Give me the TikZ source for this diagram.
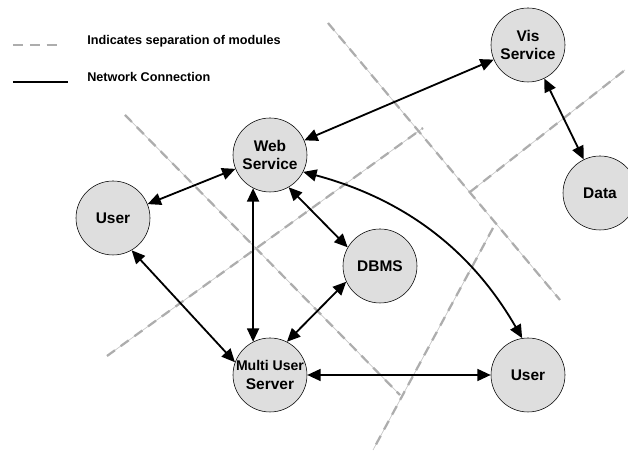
\documentclass[tikz,border=0pt]{standalone}
\usepackage{fontspec}
\setmainfont{Liberation Sans}
\usetikzlibrary{shapes,arrows.meta,positioning,calc}

\begin{document}
\begin{tikzpicture}
        % Define styles
        \tikzstyle{station} = [circle, draw, thin, fill=black!13, minimum size=1.85cm,
            inner sep=0pt, align=center, font=\bfseries\fontsize{11}{13}\selectfont]
        \tikzstyle{link} = [line width=1.3pt, <->, >={Triangle[length=9.5pt,width=8.5pt]}]
        \tikzstyle{border} = [black!22, line width=0.5pt]
        \tikzstyle{borderdash} = [black!32, line width=1.6pt, dash pattern=on 7pt off 5pt]
        \tikzstyle{legend} = [anchor=west, inner sep=0pt, font=\bfseries\fontsize{9}{11}\selectfont]

        \useasboundingbox (0,0) rectangle (15.7,11.3);

        % Module borders
        \foreach \a/\b in {{3.125,8.425}/{10.0,1.425}, {2.675,2.4}/{10.575,8.1},
                           {8.2,10.725}/{14.0,3.8}, {11.75,6.5}/{15.625,9.55},
                           {12.325,5.6}/{9.325,0.05}} {
            \draw [border] (\a) -- (\b);
            \draw [borderdash] (\a) -- (\b);
        }

        % Legend
        \coordinate (dashA) at (0.325,10.175);
        \coordinate (dashB) at (1.5,10.175);
        \coordinate (lineA) at (0.325,9.25);
        \coordinate (lineB) at (1.7,9.25);
        \draw [borderdash] (dashA) -- (dashB);
        \draw [line width=1.3pt] (lineA) -- (lineB);
        \node [legend] (sepnote) at (2.175,10.26) {Indicates separation of modules};
        \node [legend] (netnote) at (2.175,9.37) {Network Connection};

        % Nodes
        \node [station] (web) at (6.75,7.425) {Web\\Service};
        \node [station, below of=web, node distance=5.5cm] (multi)
            {{\fontsize{10}{11}\selectfont Multi User}\\Server};
        \node [station, right of=multi, node distance=6.45cm] (user2) {User};
        \node [station] (user) at (2.825,5.85) {User};
        \node [station] (dbms) at (9.5,4.65) {DBMS};
        \node [station] (vis) at (13.2,10.175) {Vis\\Service};
        \node [station] (data) at (15.0,6.475) {Data};

        % Arrows
        \draw [link] (web) -- (vis);
        \draw [link] (vis) -- (data);
        \draw [link] (web) -- (user);
        \draw [link] (user.-60) -- (multi.160);
        \draw [link] (web.-117) -- (multi.117);
        \draw [link] (web.-60) -- (dbms.150);
        \draw [link] (dbms.205) -- (multi.63);
        \draw [link] (multi) -- (user2);
        \draw [link] (web.-27) .. controls +(-15:3.2) and +(120:1.9) .. (user2.99);
    \end{tikzpicture}
\end{document}
